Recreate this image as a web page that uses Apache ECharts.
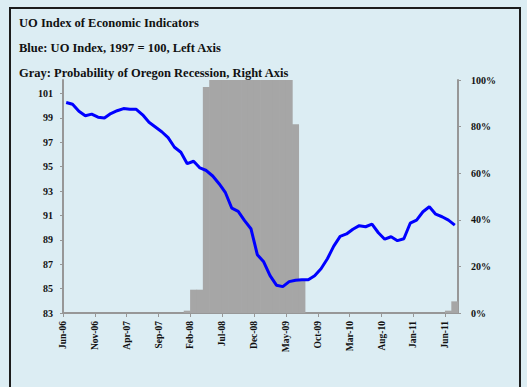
<!DOCTYPE html>
<html>
<head>
<meta charset="utf-8">
<script src="https://cdn.jsdelivr.net/npm/echarts@6/dist/echarts.min.js"></script>
<style>
  html, body { margin: 0; padding: 0; background: #dcedf3; overflow: hidden; }
  #frame { position: absolute; left: 9px; top: 7px; width: 512px; height: 420px;
           border: 2px solid #1c1c1c; box-sizing: border-box; }
  #chart { position: absolute; left: 0; top: 0; width: 527px; height: 387px; }
</style>
</head>
<body>
<div id="frame"></div>
<div id="chart"></div>
<script>
// Monthly observations, Jun-06 through Jul-11
const months = [
  'Jun-06','Jul-06','Aug-06','Sep-06','Oct-06','Nov-06','Dec-06',
  'Jan-07','Feb-07','Mar-07','Apr-07','May-07','Jun-07','Jul-07','Aug-07','Sep-07','Oct-07','Nov-07','Dec-07',
  'Jan-08','Feb-08','Mar-08','Apr-08','May-08','Jun-08','Jul-08','Aug-08','Sep-08','Oct-08','Nov-08','Dec-08',
  'Jan-09','Feb-09','Mar-09','Apr-09','May-09','Jun-09','Jul-09','Aug-09','Sep-09','Oct-09','Nov-09','Dec-09',
  'Jan-10','Feb-10','Mar-10','Apr-10','May-10','Jun-10','Jul-10','Aug-10','Sep-10','Oct-10','Nov-10','Dec-10',
  'Jan-11','Feb-11','Mar-11','Apr-11','May-11','Jun-11','Jul-11'
];

// UO Index of Economic Indicators (1997 = 100)
const uoIndex = [
  100.26, 100.11, 99.54, 99.17, 99.30, 99.05, 98.98, 99.35, 99.58, 99.76,
  99.70, 99.70, 99.25, 98.64, 98.25, 97.86, 97.37, 96.59, 96.18, 95.24,
  95.44, 94.89, 94.68, 94.23, 93.60, 92.86, 91.59, 91.33, 90.57, 89.91,
  87.78, 87.20, 86.06, 85.28, 85.16, 85.57, 85.69, 85.73, 85.73, 86.06,
  86.63, 87.45, 88.48, 89.28, 89.48, 89.87, 90.16, 90.07, 90.28, 89.58,
  89.05, 89.25, 88.93, 89.09, 90.36, 90.61, 91.30, 91.71, 91.10, 90.89,
  90.61, 90.20
];

// Probability of an Oregon recession (%)
const recessionProb = [
  0, 0, 0, 0, 0, 0, 0, 0, 0, 0,
  0, 0, 0, 0, 0, 0, 0, 0, 0, 1,
  10, 10, 97, 100, 100, 100, 100, 100, 100, 100,
  100, 100, 100, 100, 100, 100, 81, 14, 0, 0,
  0, 0, 0, 0, 0, 0, 0, 0, 0, 0,
  0, 0, 0, 0, 0, 0, 0, 0, 0, 0,
  1, 5
];

const leftTicks = [83, 85, 87, 89, 91, 93, 95, 97, 99, 101];
const rightTicks = [0, 20, 40, 60, 80, 100];
const dateTickStep = 5;   // a date label every five months

const titleLines = [
  'UO Index of Economic Indicators',
  'Blue: UO Index, 1997 = 100, Left Axis',
  'Gray: Probability of Oregon Recession, Right Axis'
];

const FONT = '"Liberation Serif", "Times New Roman", serif';
const axisGray = '#979797';
const barGray = '#a6a6a6';

// each month occupies one unit band; marks sit in the middle of their band
const lineData = uoIndex.map((v, i) => [i + 0.5, v]);
const barData = recessionProb.map((v, i) => [i + 0.5, v]);

const chart = echarts.init(document.getElementById('chart'), null, { renderer: 'svg' });

chart.setOption({
  animation: false,
  backgroundColor: 'transparent',
  title: titleLines.map((t, k) => ({
    text: t,
    left: 14,
    top: 11 + k * 25,
    textStyle: { fontFamily: FONT, fontWeight: 'bold', fontSize: 12.5, color: '#111' }
  })),
  grid: { left: 63, right: 69, top: 80, bottom: 74, containLabel: false },
  xAxis: {
    type: 'value',
    min: 0,
    max: months.length,
    interval: dateTickStep,
    splitLine: { show: false },
    axisLine: { show: true, onZero: false, lineStyle: { color: axisGray, width: 2 } },
    axisTick: { show: true, length: 4, lineStyle: { color: axisGray, width: 1 } },
    axisLabel: {
      rotate: 90,
      margin: 8,
      showMaxLabel: false,
      fontFamily: FONT, fontWeight: 'bold', fontSize: 9.5, color: '#111',
      formatter: v => (v % dateTickStep === 0 && v < months.length) ? months[v] : ''
    }
  },
  yAxis: [
    {
      type: 'value',
      position: 'left',
      min: 83,
      max: 102.1,
      interval: 2,
      splitLine: { show: false },
      axisLine: { show: true, lineStyle: { color: axisGray, width: 2 } },
      axisTick: { show: true, length: 3, customValues: leftTicks, lineStyle: { color: axisGray } },
      axisLabel: {
        margin: 10,
        customValues: leftTicks,
        fontFamily: FONT, fontWeight: 'bold', fontSize: 10, color: '#111'
      }
    },
    {
      type: 'value',
      position: 'right',
      min: 0,
      max: 100,
      interval: 20,
      splitLine: { show: false },
      axisLine: { show: true, lineStyle: { color: axisGray, width: 2 } },
      axisTick: { show: true, length: 3, lineStyle: { color: axisGray } },
      axisLabel: {
        margin: 13,
        formatter: v => rightTicks.includes(v) ? v + '%' : '',
        fontFamily: FONT, fontWeight: 'bold', fontSize: 10, color: '#111'
      }
    }
  ],
  series: [
    {
      name: 'Probability of Oregon Recession',
      type: 'bar',
      yAxisIndex: 1,
      data: barData,
      barWidth: 7,          // a touch wider than one month so neighbouring columns join
      itemStyle: { color: barGray },
      z: 1
    },
    {
      name: 'UO Index',
      type: 'line',
      yAxisIndex: 0,
      data: lineData,
      showSymbol: false,
      lineStyle: { color: '#0000ff', width: 3 },
      z: 3
    }
  ]
});
</script>
</body>
</html>
